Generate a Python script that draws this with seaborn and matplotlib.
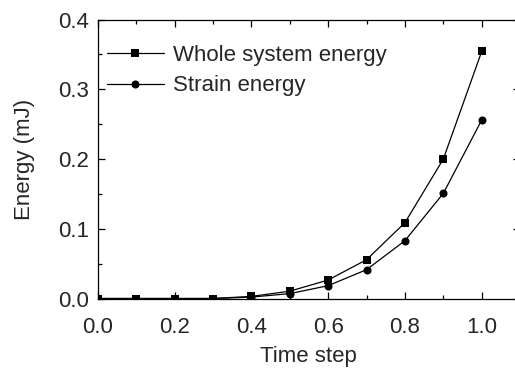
import matplotlib
matplotlib.use("Agg")
import matplotlib.pyplot as plt
import seaborn as sns
import pandas as pd
from matplotlib.ticker import MultipleLocator

time_step = [0.0, 0.1, 0.2, 0.3, 0.4, 0.5, 0.6, 0.7, 0.8, 0.9, 1.0]
whole_energy = [0.0, 0.0, 0.0, 0.0, 0.003, 0.0105, 0.0265, 0.0556, 0.1087, 0.2, 0.3544]
strain_energy = [0.0, 0.0, 0.0, 0.0, 0.002, 0.007, 0.0184, 0.0413, 0.0829, 0.1508, 0.256]
series_names = ["Whole system energy", "Strain energy"]

df = pd.concat([
    pd.DataFrame({"Time step": time_step, "Energy": whole_energy, "Series": series_names[0]}),
    pd.DataFrame({"Time step": time_step, "Energy": strain_energy, "Series": series_names[1]}),
])

sns.set_style("ticks")
plt.rcParams["font.family"] = ["Liberation Sans", "DejaVu Sans"]

fig = plt.figure(figsize=(5.15, 3.71), dpi=100)
ax = fig.add_axes([0.1897, 0.1954, 0.8103 + 0.01, 0.752])

sns.lineplot(data=df, x="Time step", y="Energy", hue="Series", style="Series",
             markers={series_names[0]: "s", series_names[1]: "o"}, dashes=False,
             palette={series_names[0]: "black", series_names[1]: "black"},
             linewidth=0.9, markersize=5.8, markeredgewidth=0, ax=ax)

ax.set_xlim(0, 1.1)
ax.set_ylim(0, 0.4)
ax.xaxis.set_major_locator(MultipleLocator(0.2))
ax.xaxis.set_minor_locator(MultipleLocator(0.1))
ax.yaxis.set_major_locator(MultipleLocator(0.1))
ax.yaxis.set_minor_locator(MultipleLocator(0.05))
ax.xaxis.set_major_formatter(plt.FormatStrFormatter("%.1f"))
ax.yaxis.set_major_formatter(plt.FormatStrFormatter("%.1f"))
ax.tick_params(which="both", direction="in", top=True, right=True, labelsize=16, width=0.9, color="black")
ax.tick_params(which="major", length=5)
ax.tick_params(which="minor", length=3)
ax.tick_params(axis="x", which="major", pad=13)
ax.tick_params(axis="y", which="major", pad=6)
for s in ax.spines.values():
    s.set_linewidth(0.9)
    s.set_color("black")

ax.set_xlabel("Time step", fontsize=16, labelpad=6)
ax.set_ylabel("Energy (mJ)", fontsize=16, labelpad=17)

leg = ax.legend(loc="upper left", frameon=False, fontsize=16, handlelength=2.6,
                handletextpad=0.4, labelspacing=0.42, borderaxespad=0.0,
                bbox_to_anchor=(0.0, 0.94))
for h in leg.legend_handles:
    h.set_color("black")

fig.savefig("out.png", dpi=100)
